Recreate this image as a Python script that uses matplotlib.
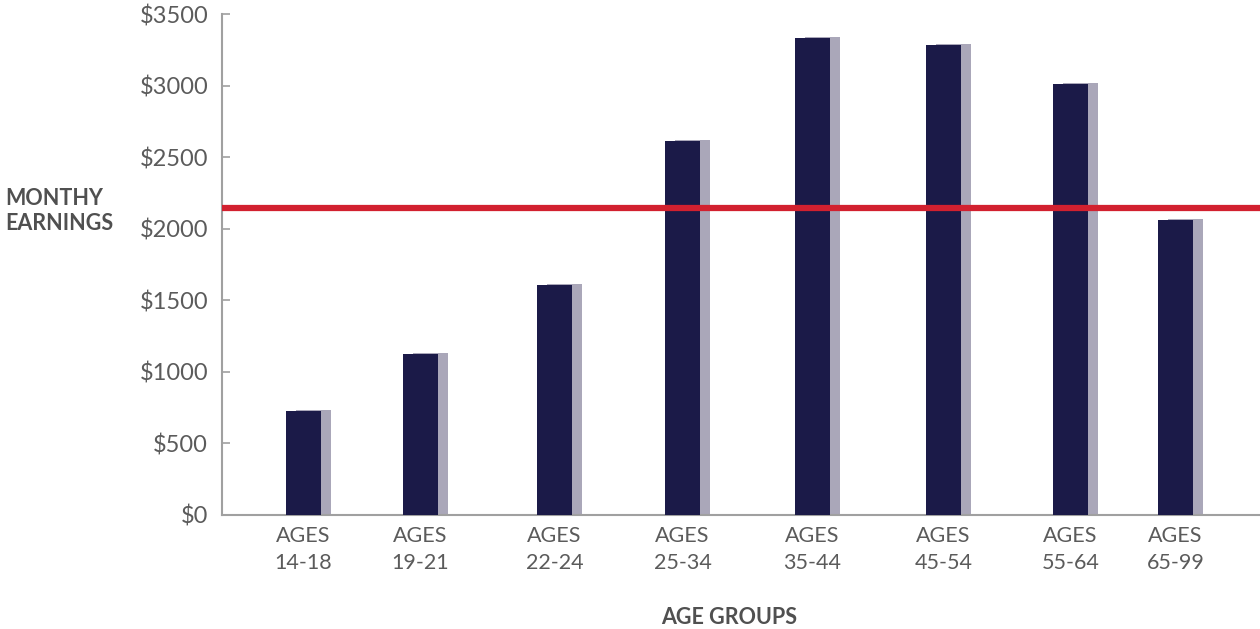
import matplotlib
matplotlib.use("Agg")
import matplotlib.pyplot as plt

# data
groups = ["14-18", "19-21", "22-24", "25-34", "35-44", "45-54", "55-64", "65-99"]
earnings = [725, 1125, 1610, 2610, 3330, 3280, 3010, 2060]
average = 2145
yticks = [0, 500, 1000, 1500, 2000, 2500, 3000, 3500]

# layout (bar slots are not evenly spaced in the original)
slots = [303.5, 420.5, 554.5, 682.5, 812.5, 943.5, 1070.5, 1175.5]
bar_w = 35
shadow_dx = 10
shadow_dy = 7

navy = "#1b1a48"
shadow = "#aaa7b9"
red = "#d2202f"
grey = "#5b5b5b"
plt.rcParams["font.family"] = ["Lato", "DejaVu Sans"]

fig = plt.figure(figsize=(12.6, 6.29), dpi=100)
ax = fig.add_axes([222 / 1260, 114 / 629, 1 - 222 / 1260, 501 / 629])

ax.bar([s + shadow_dx for s in slots], [e + shadow_dy for e in earnings],
       width=bar_w, color=shadow, zorder=2)
ax.bar(slots, earnings, width=bar_w, color=navy, zorder=3)
ax.axhline(average, color=red, lw=4.5, zorder=4)

ax.set_xlim(222, 1260)
ax.set_ylim(0, 3500)
ax.set_yticks(yticks)
ax.set_yticklabels(["$%d" % v for v in yticks], fontsize=17, color=grey)
ax.set_xticks(slots)
ax.set_xticklabels(["AGES\n" + g for g in groups], fontsize=15.5, color=grey,
                   linespacing=1.45)
ax.tick_params(axis="y", direction="in", length=6, width=1.2, color="#a0a0a0", pad=10)
ax.tick_params(axis="x", length=0, pad=8)

for side in ["top", "right"]:
    ax.spines[side].set_visible(False)
for side in ["left", "bottom"]:
    ax.spines[side].set_color("#a0a0a0")
    ax.spines[side].set_linewidth(1.5)

fig.text(5 / 1260, 1 - 211 / 629, "MONTHY\nEARNINGS", fontsize=15.5, fontweight="bold",
         color="#505050", ha="left", va="center", linespacing=1.25)
fig.text(729 / 1260, 1 - 617 / 629, "AGE GROUPS", fontsize=15.5, fontweight="bold",
         color="#505050", ha="center", va="center")

fig.savefig("out.png", dpi=100)
